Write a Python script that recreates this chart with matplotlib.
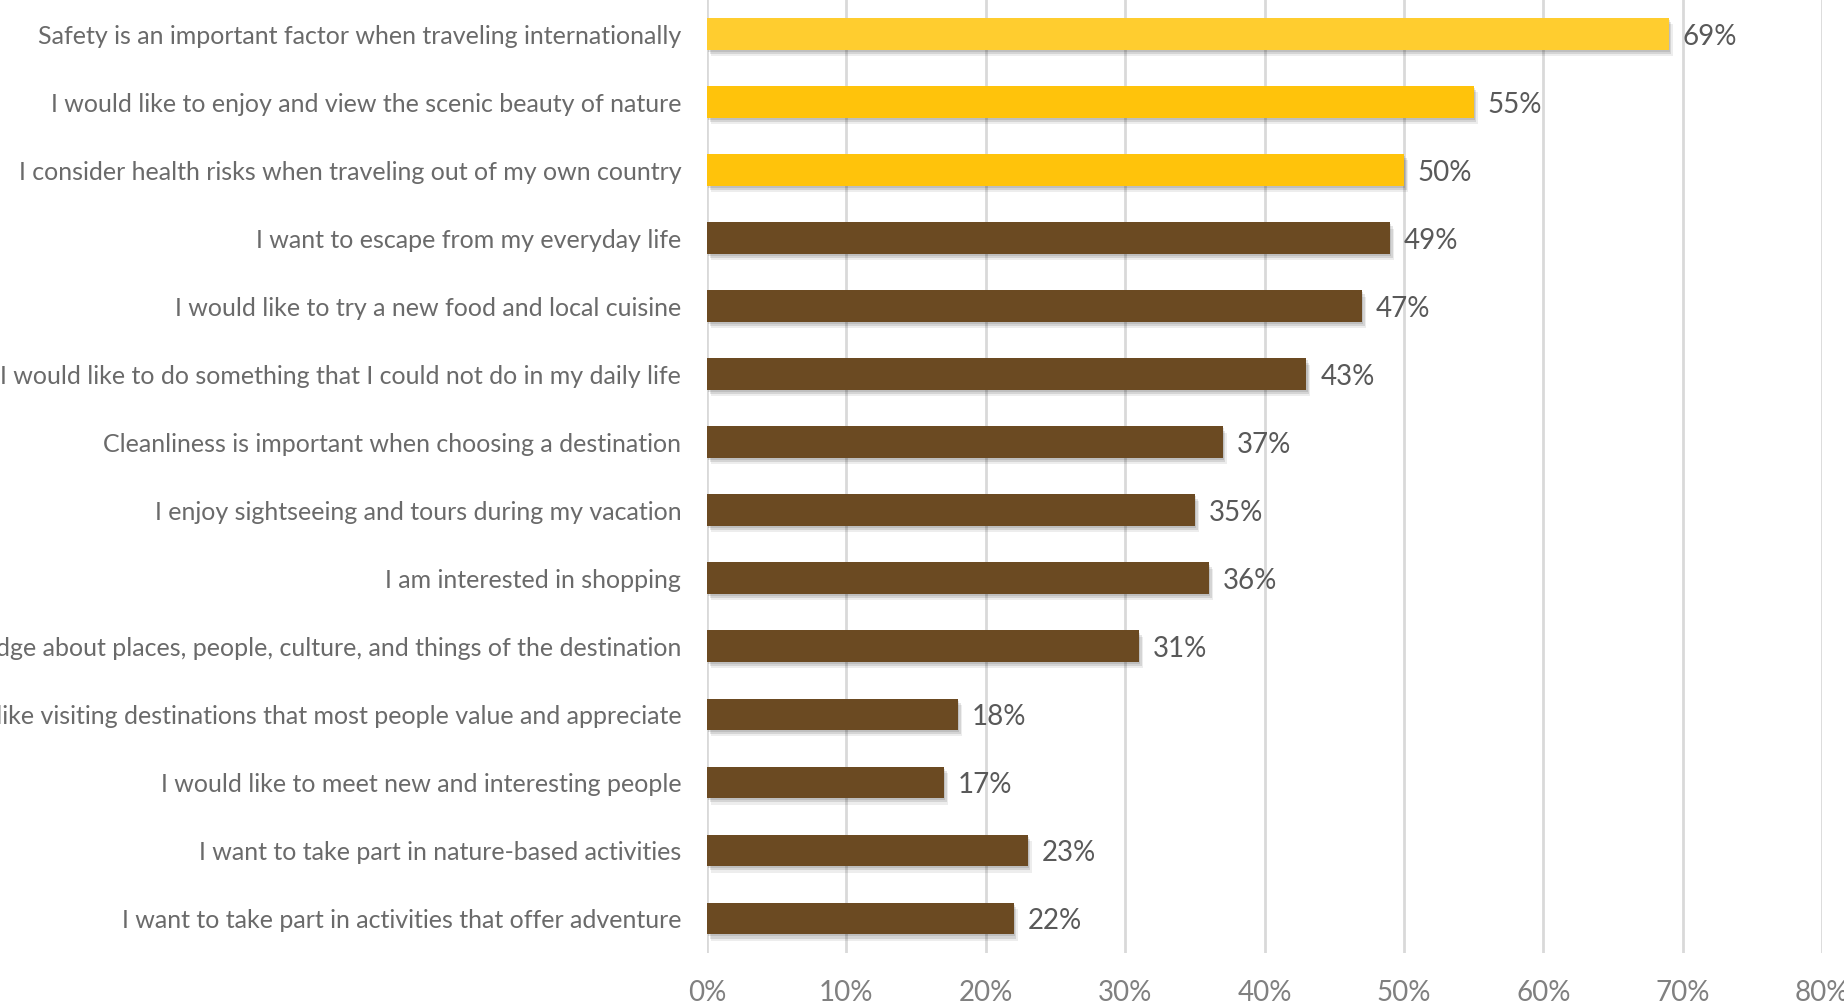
import matplotlib
matplotlib.use("Agg")
import matplotlib.pyplot as plt
import matplotlib.patheffects as pe
from matplotlib.ticker import FuncFormatter

# Survey responses: travel motivations (share of respondents)
categories = [
    "Safety is an important factor when traveling internationally",
    "I would like to enjoy and view the scenic beauty of nature",
    "I consider health risks when traveling out of my own country",
    "I want to escape from my everyday life",
    "I would like to try a new food and local cuisine",
    "I would like to do something that I could not do in my daily life",
    "Cleanliness is important when choosing a destination",
    "I enjoy sightseeing and tours during my vacation",
    "I am interested in shopping",
    "I want to increase my knowledge about places, people, culture, and things of the destination",
    "I like visiting destinations that most people value and appreciate",
    "I would like to meet new and interesting people",
    "I want to take part in nature-based activities",
    "I want to take part in activities that offer adventure",
]
values = [69, 55, 50, 49, 47, 43, 37, 35, 36, 31, 18, 17, 23, 22]
bar_colors = ["#FFCD2F", "#FFC30B", "#FFC30B"] + ["#6B4A22"] * 11
x_ticks = [0, 10, 20, 30, 40, 50, 60, 70, 80]

plt.rcParams["font.family"] = ["Lato", "DejaVu Sans"]

fig = plt.figure(figsize=(18.44, 10.08), dpi=100)
ax = fig.add_axes([707 / 1844, 1 - 952.5 / 1008, (1822 - 707) / 1844, 952.5 / 1008])

pos = list(range(len(categories)))
shadow = [
    pe.SimplePatchShadow(offset=(1.0, -1.5), shadow_rgbFace="#000000", alpha=0.10),
    pe.SimplePatchShadow(offset=(2.0, -3.0), shadow_rgbFace="#000000", alpha=0.10),
    pe.SimplePatchShadow(offset=(3.0, -4.5), shadow_rgbFace="#000000", alpha=0.07),
    pe.Normal(),
]
bars = ax.barh(pos, values, height=0.466, color=bar_colors, zorder=3)
for b in bars:
    b.set_path_effects(shadow)

for p, v in zip(pos, values):
    ax.text(v + 1.0, p, f"{v}%", va="center_baseline", ha="left",
            fontsize=20, color="#595959", zorder=4)

ax.set_xlim(0, 80)
ax.set_ylim(len(categories) - 0.5, -0.5)
ax.set_xticks(x_ticks)
ax.xaxis.set_major_formatter(FuncFormatter(lambda x, _: f"{x:.0f}%"))
ax.set_yticks(pos)
ax.set_yticklabels(categories)

ax.grid(axis="x", color="#D9D9D9", linewidth=2.0, zorder=0)
ax.set_axisbelow(True)
for s in ax.spines.values():
    s.set_visible(False)

ax.tick_params(axis="y", length=0, pad=18.5, labelsize=18, labelcolor="#6A6A6A")
ax.tick_params(axis="x", length=0, pad=20, labelsize=20, labelcolor="#808080")

fig.savefig("out.png", dpi=100)
